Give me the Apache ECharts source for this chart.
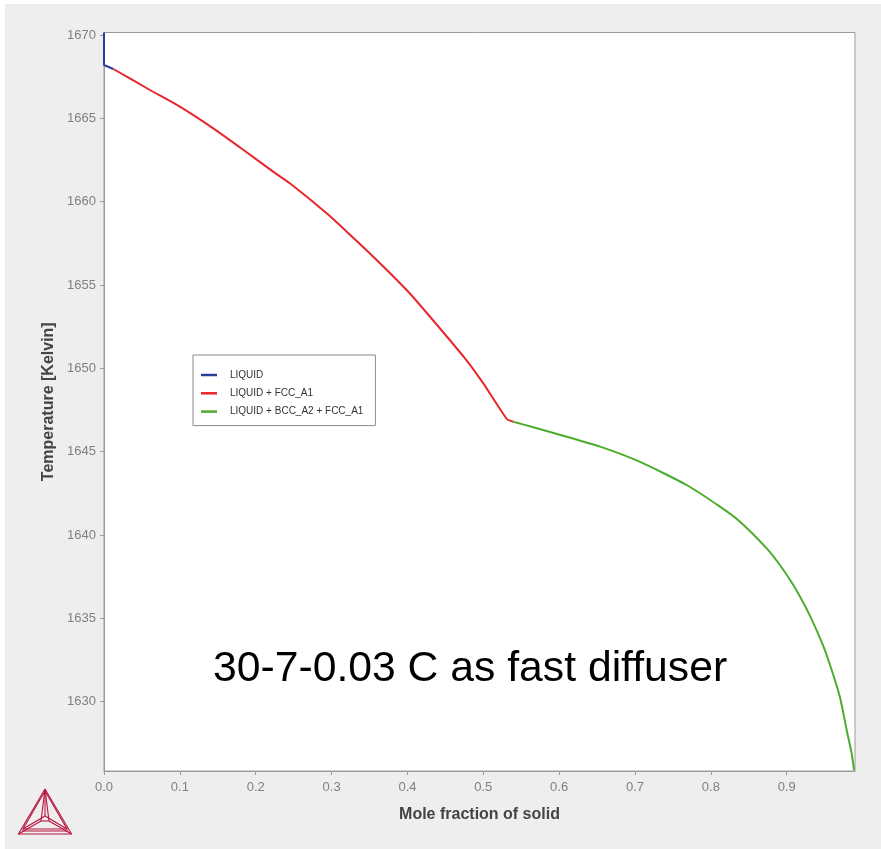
<!DOCTYPE html>
<html>
<head>
<meta charset="utf-8">
<script src="https://cdn.jsdelivr.net/npm/echarts@6/dist/echarts.min.js"></script>
<style>
  html, body { margin: 0; padding: 0; background: #ffffff; }
  #main-chart { width: 881px; height: 849px; }
</style>
</head>
<body>
<div id="main-chart"></div>
<script>
// mole fraction of solid vs temperature
const liquidX = [0, 0, 0.0123]
const liquidT = [1670.15, 1668.2, 1667.96]

const fccX = [0.0123, 0.0606, 0.1, 0.144, 0.184, 0.223, 0.245, 0.2935, 0.32, 0.355, 0.399, 0.425, 0.474, 0.5, 0.531, 0.5396]
const fccT = [1667.96, 1666.7, 1665.7, 1664.4, 1663.1, 1661.8, 1661.1, 1659.3, 1658.2, 1656.7, 1654.7, 1653.35, 1650.7, 1649.1, 1646.96, 1646.8]

const bccX = [0.5396, 0.566, 0.61, 0.654, 0.706, 0.768, 0.812, 0.8384, 0.8736, 0.891, 0.9087, 0.9263, 0.9416, 0.9526, 0.97, 0.979, 0.9856, 0.9887]
const bccT = [1646.8, 1646.46, 1645.9, 1645.3, 1644.4, 1643.0, 1641.7, 1640.8, 1639.2, 1638.2, 1637.0, 1635.55, 1634.05, 1632.8, 1630.3, 1628.3, 1626.9, 1625.9]

const tempTicks = [1630, 1635, 1640, 1645, 1650, 1655, 1660, 1665, 1670]
const seriesNames = ['LIQUID', 'LIQUID + FCC_A1', 'LIQUID + BCC_A2 + FCC_A1']
const seriesColors = ['#2b3d9a', '#e8262d', '#4cad2c']
const annotation = '30-7-0.03 C as fast diffuser'

const X_MIN = 0, X_MAX = 0.99
const T_MIN = 1625.84, T_MAX = 1670.15

const zip = (xs, ys) => xs.map((x, i) => [x, ys[i]])
const seriesData = [zip(liquidX, liquidT), zip(fccX, fccT), zip(bccX, bccT)]
const seriesSmooth = [false, 0.2, 0.2]

const FONT = '"Liberation Sans", Arial, sans-serif'
const LOGO = '#b8163f'

const chart = echarts.init(document.querySelector('#main-chart'))

const logoLines = [
  [[45, 789], [18.5, 834], [71.5, 834], [45, 789]],
  [[45, 791], [23, 829], [67, 829], [45, 791]],
  [[22, 831], [68, 831]],
  [[45, 789], [45, 816]],
  [[45, 789], [41, 821]],
  [[45, 789], [49, 821]],
  [[41, 821], [49, 821]],
  [[18.5, 834], [41, 821]],
  [[71.5, 834], [49, 821]],
  [[23, 829], [45, 816], [67, 829]]
]

const option = {
  backgroundColor: '#ffffff',
  animation: false,
  graphic: [
    {
      type: 'rect', z: -10, silent: true,
      shape: { x: 5, y: 4, width: 876, height: 845 },
      style: { fill: '#eeeeee' }
    },
    {
      type: 'text', z: 100,
      left: 213, top: 648,
      style: { text: annotation, fill: '#000000', font: '42.7px ' + FONT }
    },
    ...logoLines.map(pts => ({
      type: 'polyline', silent: true,
      shape: { points: pts },
      style: { stroke: LOGO, lineWidth: 1.1, fill: null }
    }))
  ],
  grid: {
    left: 104, top: 32.5, right: 26, bottom: 78,
    show: true, backgroundColor: '#ffffff', borderColor: '#9a9a9a', borderWidth: 1
  },
  legend: {
    orient: 'vertical',
    left: 193, top: 355,
    padding: [13, 12, 7, 8],
    backgroundColor: '#ffffff',
    borderColor: '#8a8a8a', borderWidth: 1, borderRadius: 0,
    icon: 'rect', itemWidth: 16, itemHeight: 2.5, itemGap: 4.3,
    textStyle: { fontFamily: FONT, fontSize: 10, color: '#333333', lineHeight: 14, padding: [0, 0, 0, 8] },
    data: seriesNames
  },
  xAxis: {
    type: 'value', min: X_MIN, max: X_MAX, interval: 0.1,
    name: 'Mole fraction of solid', nameLocation: 'middle', nameGap: 36,
    nameTextStyle: { fontFamily: FONT, fontSize: 16, fontWeight: 'bold', color: '#444444' },
    axisLine: { show: true, lineStyle: { color: '#9a9a9a' } },
    axisTick: { show: true, length: 4, lineStyle: { color: '#9a9a9a' } },
    axisLabel: {
      fontFamily: FONT, fontSize: 13, color: '#808080', margin: 10,
      showMaxLabel: false,
      formatter: v => v.toFixed(1)
    },
    splitLine: { show: false }
  },
  yAxis: {
    type: 'value', min: T_MIN, max: T_MAX,
    name: 'Temperature [Kelvin]', nameLocation: 'middle', nameGap: 44, nameRotate: 90,
    nameTextStyle: { fontFamily: FONT, fontSize: 16, fontWeight: 'bold', color: '#444444' },
    axisLine: { show: true, lineStyle: { color: '#9a9a9a' } },
    axisTick: { show: true, length: 4, customValues: tempTicks, lineStyle: { color: '#9a9a9a' } },
    axisLabel: {
      fontFamily: FONT, fontSize: 13, color: '#808080', margin: 8,
      customValues: tempTicks,
      formatter: v => String(Math.round(v))
    },
    splitLine: { show: false }
  },
  series: seriesNames.map((name, i) => ({
    name: name,
    type: 'line',
    data: seriesData[i],
    showSymbol: false,
    symbol: 'none',
    smooth: seriesSmooth[i],
    color: seriesColors[i],
    lineStyle: { width: 2, color: seriesColors[i] },
    z: 3 + i
  }))
}
chart.setOption(option)
</script>
</body>
</html>
